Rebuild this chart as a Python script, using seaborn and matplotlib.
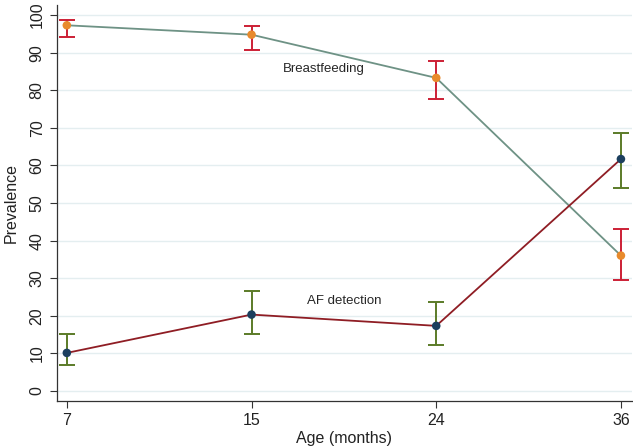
import numpy as np
import pandas as pd
import seaborn as sns
import matplotlib.pyplot as plt

# values
ages = ['7', '15', '24', '36']
bf_prev = [97.3, 94.8, 83.3, 36.0]
bf_lo = [94.1, 90.7, 77.6, 29.5]
bf_hi = [98.7, 97.1, 87.8, 43.0]
af_prev = [10.1, 20.3, 17.3, 61.7]
af_lo = [6.8, 15.2, 12.3, 54.0]
af_hi = [15.0, 26.5, 23.7, 68.7]

pos = np.arange(len(ages))
bf = pd.DataFrame({'x': pos, 'prev': bf_prev, 'lo': bf_lo, 'hi': bf_hi})
af = pd.DataFrame({'x': pos, 'prev': af_prev, 'lo': af_lo, 'hi': af_hi})

sns.set_style('white')
plt.rcParams['font.family'] = ['Liberation Sans', 'DejaVu Sans']

fig = plt.figure(figsize=(6.33, 4.48), dpi=100)
ax = fig.add_axes([56.5 / 633, 47 / 448, (632 - 56.5) / 633, (443 - 47) / 448])

for y in range(0, 101, 10):
    ax.axhline(y, color='#e4eef0', lw=1, zorder=0)

#%%
sns.lineplot(data=bf, x='x', y='prev', color='#6e9285', lw=1.3, ax=ax, zorder=2)
sns.lineplot(data=af, x='x', y='prev', color='#8f1d24', lw=1.3, ax=ax, zorder=2)

ax.errorbar(bf.x, bf.prev, yerr=[bf.prev - bf.lo, bf.hi - bf.prev], fmt='none',
            ecolor='#cc1f35', elinewidth=1.4, capsize=6, capthick=1.4, zorder=3)
ax.errorbar(af.x, af.prev, yerr=[af.prev - af.lo, af.hi - af.prev], fmt='none',
            ecolor='#5b7b28', elinewidth=1.4, capsize=6, capthick=1.4, zorder=3)

sns.scatterplot(data=bf, x='x', y='prev', color='#e88a2c', s=38, edgecolor='none', ax=ax, zorder=4)
sns.scatterplot(data=af, x='x', y='prev', color='#1c3f5e', s=38, edgecolor='none', ax=ax, zorder=4)

ax.text(1.39, 85.6, 'Breastfeeding', ha='center', va='center', fontsize=9.5)
ax.text(1.50, 24.0, 'AF detection', ha='center', va='center', fontsize=9.5)

#%%
ax.set_xlim(-0.056, 3.06)
ax.set_ylim(-2.7, 102.7)
ax.set_xticks(pos)
ax.set_xticklabels(ages)
ax.set_yticks(range(0, 101, 10))
ax.set_yticklabels([str(v) for v in range(0, 101, 10)], rotation=90, va='center')
ax.tick_params(axis='both', length=5, width=0.8, color='#333333', labelsize=11.5,
               labelcolor='#222222', left=True, bottom=True)
ax.set_xlabel('Age (months)', fontsize=11.5, labelpad=2, color='#222222')
ax.set_ylabel('Prevalence', fontsize=11.5, labelpad=8, color='#222222')

sns.despine(ax=ax, top=True, right=True)
for side in ['left', 'bottom']:
    ax.spines[side].set_color('#333333')
    ax.spines[side].set_linewidth(0.9)

plt.savefig('out.png', dpi=100)
